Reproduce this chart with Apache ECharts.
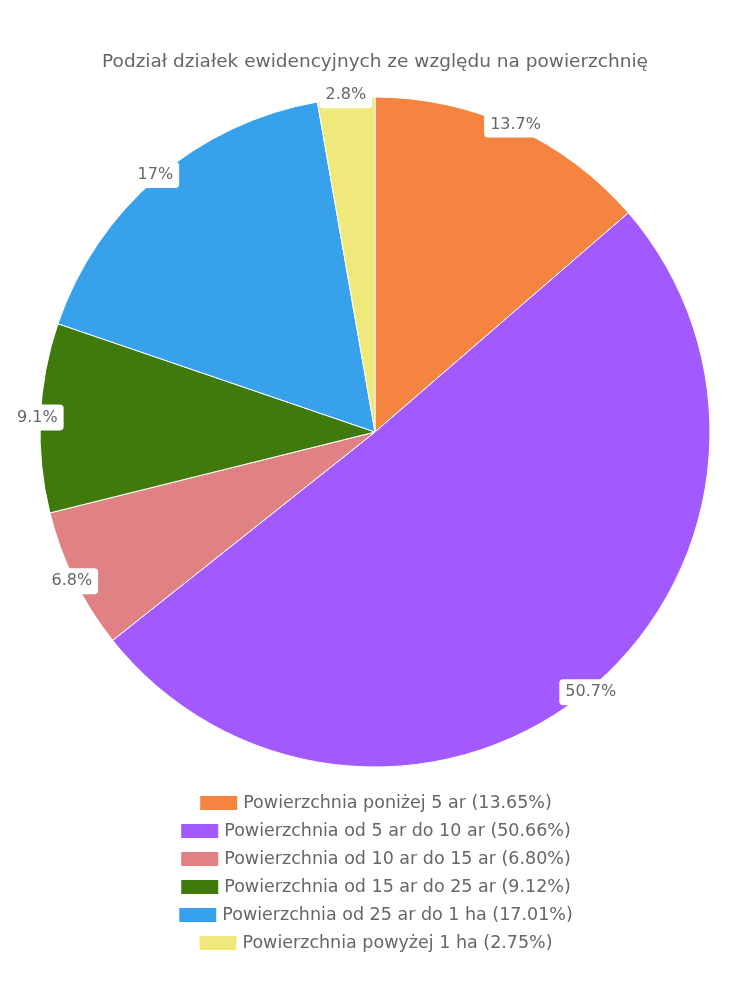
<!DOCTYPE html>
<html><head><meta charset="utf-8">
<script src="https://cdn.jsdelivr.net/npm/echarts@6/dist/echarts.min.js"></script>
<style>html,body{margin:0;padding:0;background:#fff}#c{width:750px;height:1000px}</style>
</head><body><div id="c"></div>
<script>
const titleText = 'Podział działek ewidencyjnych ze względu na powierzchnię';
const categories = ['Powierzchnia poniżej 5 ar','Powierzchnia od 5 ar do 10 ar','Powierzchnia od 10 ar do 15 ar','Powierzchnia od 15 ar do 25 ar','Powierzchnia od 25 ar do 1 ha','Powierzchnia powyżej 1 ha'];
const values = [13.65, 50.66, 6.80, 9.12, 17.01, 2.75];
const colors = ['#F4843F','#A259FE','#E08283','#3F7B0C','#37A2EB','#EEE97A'];

const FONT = 'DejaVu Sans';
const chart = echarts.init(document.getElementById('c'));
const data = categories.map((n,i)=>({name:n, value:values[i]}));
const valueOf = {}; categories.forEach((n,i)=>valueOf[n]=values[i]);

const legends = categories.map((n,i)=>({
  data:[n], orient:'horizontal', left:'center', top: 789 + i*28,
  itemWidth:39, itemHeight:16, itemGap:10, icon:'rect',
  textStyle:{color:'#666', fontSize:17.5, fontFamily:FONT},
  formatter: name => name + ' (' + valueOf[name].toFixed(2) + '%)',
  selectedMode:false
}));

chart.setOption({
  color: colors,
  animation:false,
  title:{text:titleText, left:'center', top:48, textStyle:{color:'#666', fontSize:18.5, fontWeight:'normal', fontFamily:FONT}},
  legend: legends,
  series:[
    {type:'pie', center:[375,432], radius:[0,335], startAngle:90, clockwise:true,
     data:data, label:{show:false}, labelLine:{show:false},
     itemStyle:{borderColor:'#fff', borderWidth:1}, emphasis:{disabled:true}},
    {type:'pie', center:[375,432], radius:[334,336], startAngle:90, clockwise:true,
     data:data, silent:true,
     itemStyle:{color:'rgba(0,0,0,0)', borderWidth:0},
     label:{show:true, position:'inside', color:'#666', fontSize:16, fontFamily:FONT,
       backgroundColor:'#fff', borderRadius:4, padding:[6,6,4,6],
       formatter: p => parseFloat(p.value.toFixed(1)) + '%'},
     labelLine:{show:false}, emphasis:{disabled:true}}
  ]
});
</script></body></html>
